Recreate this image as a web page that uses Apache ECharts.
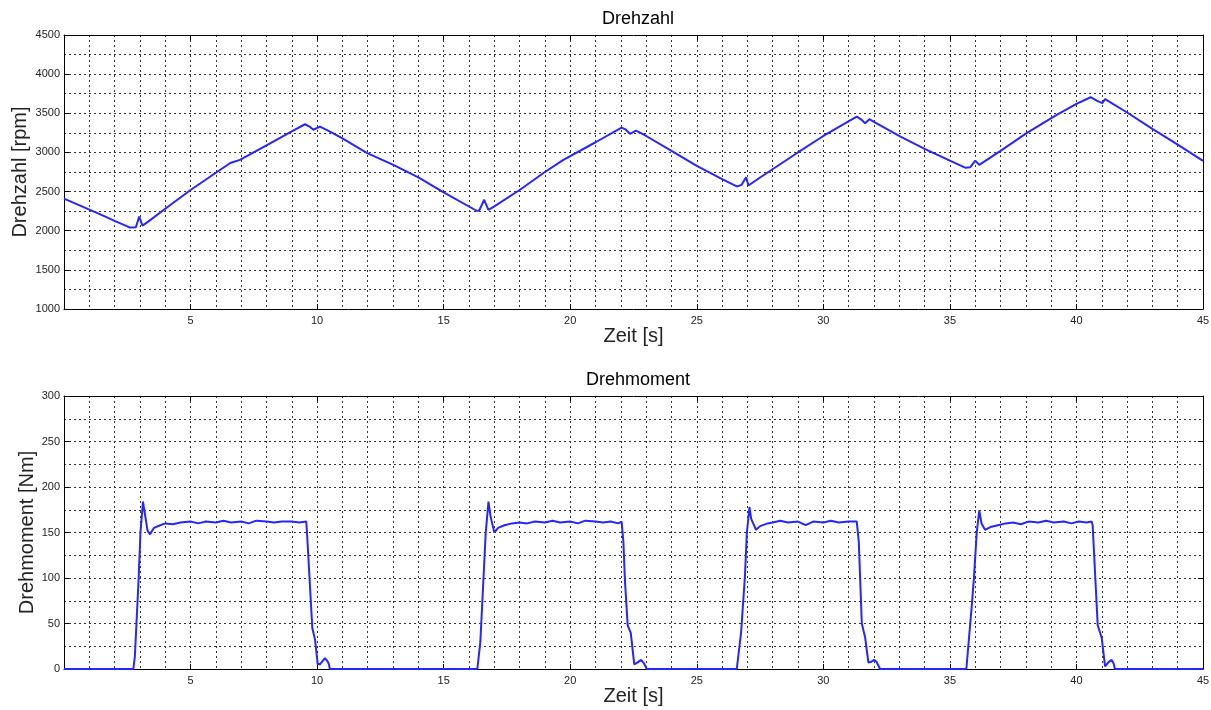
<!DOCTYPE html>
<html>
<head>
<meta charset="utf-8">
<script src="https://cdn.jsdelivr.net/npm/echarts@6/dist/echarts.min.js"></script>
<style>
html,body{margin:0;padding:0;background:#fff;}
#c{width:1211px;height:710px;}
</style>
</head>
<body>
<div id="c"></div>
<script>
// ---- Data: Drehzahl (rpm) ----
var speedTime = [0, 0.5, 1, 1.5, 2, 2.5, 2.6, 2.84, 2.97, 3.1, 3.3, 4, 5, 6, 6.57, 6.95, 8, 9, 9.52, 9.7, 9.85, 10.11, 10.51, 11, 11.96, 13.01, 14, 15, 16.3, 16.4, 16.6, 16.77, 17, 18, 19, 19.73, 21, 22.03, 22.2, 22.36, 22.6, 23, 24, 25, 26, 26.58, 26.77, 26.95, 27.04, 27.5, 28.95, 30, 31.32, 31.5, 31.65, 31.82, 32, 33.03, 34, 35, 35.6, 35.8, 36.0, 36.16, 37, 38.03, 39.22, 40, 40.56, 40.8, 41.02, 41.13, 42, 43, 44, 45];
var speedVal = [2410, 2340, 2270, 2200, 2125, 2055, 2040, 2045, 2180, 2065, 2110, 2280, 2520, 2740, 2865, 2905, 3090, 3270, 3360, 3330, 3290, 3330, 3265, 3180, 2995, 2840, 2680, 2490, 2255, 2255, 2395, 2265, 2310, 2520, 2750, 2905, 3130, 3317, 3290, 3237, 3279, 3210, 3020, 2829, 2660, 2565, 2586, 2684, 2577, 2680, 2990, 3210, 3458, 3420, 3373, 3425, 3390, 3205, 3045, 2896, 2805, 2810, 2896, 2841, 3020, 3246, 3479, 3620, 3705, 3662, 3629, 3680, 3510, 3300, 3100, 2892];

// ---- Data: Drehmoment (Nm) ----
var torqueTime = [0, 2.74, 2.8, 2.95, 3.02, 3.12, 3.2, 3.3, 3.4, 3.55, 3.8, 4.0, 4.3, 4.6, 5.0, 5.3, 5.6, 6.0, 6.3, 6.6, 7.0, 7.3, 7.6, 8.0, 8.3, 8.6, 9.0, 9.3, 9.57, 9.6, 9.7, 9.81, 9.92, 10.02, 10.11, 10.2, 10.31, 10.42, 10.47, 10.5,
  16.33, 16.45, 16.57, 16.66, 16.77, 16.85, 17.0, 17.15, 17.4, 17.7, 18.0, 18.3, 18.6, 19.0, 19.3, 19.6, 20.0, 20.3, 20.6, 21.0, 21.3, 21.6, 21.9, 22.03, 22.1, 22.16, 22.27, 22.39, 22.53, 22.65, 22.8, 22.92, 23.02,
  26.58, 26.75, 26.9, 26.98, 27.08, 27.15, 27.34, 27.5, 27.8, 28.0, 28.3, 28.6, 29.0, 29.3, 29.6, 30.0, 30.3, 30.6, 31.0, 31.32, 31.4, 31.52, 31.65, 31.78, 31.9, 32.0, 32.1, 32.24,
  35.65, 35.86, 35.95, 36.06, 36.16, 36.25, 36.39, 36.6, 36.9, 37.2, 37.5, 37.8, 38.1, 38.5, 38.8, 39.1, 39.5, 39.8, 40.1, 40.4, 40.6, 40.64, 40.84, 41.0, 41.13, 41.25, 41.39, 41.47, 41.52, 45];
var torqueVal = [0, 0, 14, 100, 150, 184, 170, 152, 148, 155, 158, 160, 159, 161, 162, 160, 162, 161, 163, 161, 162, 160, 163, 162, 161, 162, 162, 161, 162, 150, 100, 45, 32, 6, 5, 8, 12, 8, 5, 0,
  0, 30, 98, 149, 184, 168, 150, 155, 158, 160, 161, 160, 162, 161, 163, 161, 162, 160, 163, 162, 161, 162, 160, 162, 140, 98, 48, 40, 5, 7, 10, 6, 0,
  0, 40, 101, 150, 178, 165, 153, 157, 160, 161, 163, 161, 162, 158, 162, 161, 163, 161, 162, 162, 140, 50, 35, 7, 8, 10, 8, 0,
  0, 68, 100, 150, 174, 160, 153, 156, 158, 160, 161, 159, 162, 161, 163, 161, 162, 160, 162, 161, 162, 158, 48, 34, 3, 7, 10, 6, 0, 0];

// ---- Axis ticks ----
var xTicks = [5, 10, 15, 20, 25, 30, 35, 40, 45];
var speedTicks = [1000, 1500, 2000, 2500, 3000, 3500, 4000, 4500];
var torqueTicks = [0, 50, 100, 150, 200, 250, 300];

function pairs(t, v) { return t.map(function (x, i) { return [x, v[i]]; }); }

var FONT = 'Liberation Sans, Arial, sans-serif';
var gridLine = { show: true, lineStyle: { color: '#333', width: 1, type: [2, 3] } };
var frameLine = { show: true, onZero: false, lineStyle: { color: '#000', width: 1 } };

function xAxisMain(g) {
  return {
    gridIndex: g, type: 'value', min: 0, max: 45, interval: 5, position: 'bottom',
    axisLine: frameLine,
    axisTick: { show: true, inside: true, length: 5, lineStyle: { color: '#000' } },
    axisLabel: { color: '#222', fontSize: 11, fontFamily: FONT, margin: 6,
      formatter: function (v) { return xTicks.indexOf(v) >= 0 ? String(v) : ''; } },
    splitLine: gridLine,
    minorTick: { show: false, splitNumber: 5 },
    minorSplitLine: gridLine,
    name: 'Zeit [s]', nameLocation: 'middle', nameGap: 17, nameMoveOverlap: false,
    nameTextStyle: { fontSize: 20, color: '#222', fontFamily: FONT }
  };
}
function xAxisTop(g) {
  return {
    gridIndex: g, type: 'value', min: 0, max: 45, interval: 5, position: 'top',
    axisLine: frameLine,
    axisTick: { show: true, inside: true, length: 5, lineStyle: { color: '#000' } },
    axisLabel: { show: false }, splitLine: { show: false }
  };
}
function yAxisMain(g, mn, mx, iv, ticks, name, gap) {
  return {
    gridIndex: g, type: 'value', min: mn, max: mx, interval: iv, position: 'left',
    axisLine: frameLine,
    axisTick: { show: true, inside: true, length: 5, lineStyle: { color: '#000' } },
    axisLabel: { color: '#222', fontSize: 11, fontFamily: FONT, margin: 4,
      formatter: function (v) { return ticks.indexOf(v) >= 0 ? String(v) : ''; } },
    splitLine: gridLine,
    minorTick: { show: false, splitNumber: 2 },
    minorSplitLine: gridLine,
    name: name, nameLocation: 'middle', nameGap: gap, nameMoveOverlap: false,
    nameTextStyle: { fontSize: 20, color: '#222', fontFamily: FONT }
  };
}
function yAxisRight(g, mn, mx, iv) {
  return {
    gridIndex: g, type: 'value', min: mn, max: mx, interval: iv, position: 'right',
    axisLine: frameLine,
    axisTick: { show: true, inside: true, length: 5, lineStyle: { color: '#000' } },
    axisLabel: { show: false }, splitLine: { show: false }
  };
}

var chart = echarts.init(document.getElementById('c'), null, { renderer: 'canvas' });
chart.setOption({
  animation: false,
  backgroundColor: '#fff',
  title: [
    { text: 'Drehzahl', left: 633, top: 5, textAlign: 'center',
      textStyle: { fontSize: 18, fontWeight: 'normal', color: '#000', fontFamily: FONT } },
    { text: 'Drehmoment', left: 633, top: 366, textAlign: 'center',
      textStyle: { fontSize: 18, fontWeight: 'normal', color: '#000', fontFamily: FONT } }
  ],
  grid: [
    { left: 64, right: 8, top: 35, height: 274, outerBoundsMode: 'none', containLabel: false },
    { left: 64, right: 8, top: 396, height: 273, outerBoundsMode: 'none', containLabel: false }
  ],
  xAxis: [xAxisMain(0), xAxisTop(0), xAxisMain(1), xAxisTop(1)],
  yAxis: [
    yAxisMain(0, 1000, 4500, 500, speedTicks, 'Drehzahl [rpm]', 34),
    yAxisRight(0, 1000, 4500, 500),
    yAxisMain(1, 0, 300, 50, torqueTicks, 'Drehmoment [Nm]', 27),
    yAxisRight(1, 0, 300, 50)
  ],
  series: [
    { type: 'line', xAxisIndex: 0, yAxisIndex: 0, data: pairs(speedTime, speedVal),
      showSymbol: false, lineStyle: { color: '#2626ff', width: 2 } },
    { type: 'line', xAxisIndex: 2, yAxisIndex: 2, data: pairs(torqueTime, torqueVal),
      showSymbol: false, lineStyle: { color: '#2626ff', width: 2 } }
  ]
});
</script>
</body>
</html>
